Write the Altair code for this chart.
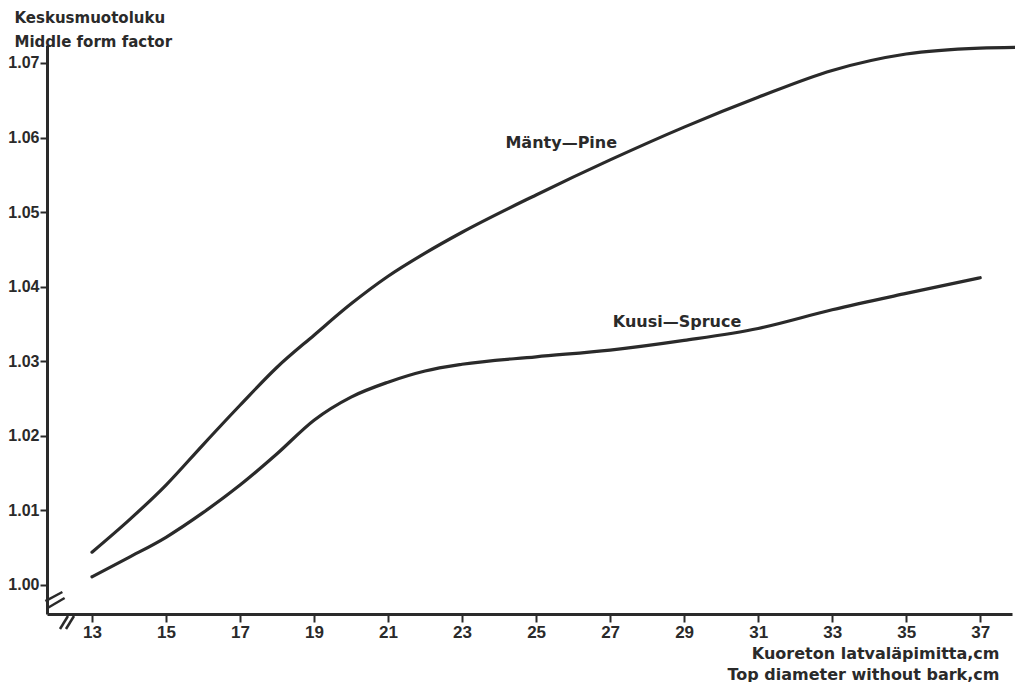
import altair as alt
import pandas as pd

# ---- data ----
pine_x = [13, 14, 15, 16, 17, 18, 19, 20, 21, 22, 23, 25, 27, 29, 31, 33, 35, 37, 38]
pine_y = [1.0044, 1.0087, 1.0134, 1.0188, 1.0241, 1.0292, 1.0335, 1.0377, 1.0414, 1.0445,
          1.0473, 1.0523, 1.0570, 1.0614, 1.0654, 1.0690, 1.0712, 1.0720, 1.0721]
spruce_x = [13, 14, 15, 16, 17, 18, 19, 20, 21, 22, 23, 25, 27, 29, 31, 33, 35, 37]
spruce_y = [1.0011, 1.0037, 1.0064, 1.0097, 1.0134, 1.0176, 1.0221, 1.0252, 1.0272, 1.0287,
            1.0296, 1.0306, 1.0315, 1.0328, 1.0344, 1.0369, 1.0391, 1.0412]

label_text = ["Mänty—Pine", "Kuusi—Spruce"]
label_x = [25.68, 28.81]
label_y = [1.0593, 1.0353]

x_ticks = [13, 15, 17, 19, 21, 23, 25, 27, 29, 31, 33, 35, 37]
y_ticks = [1.00, 1.01, 1.02, 1.03, 1.04, 1.05, 1.06, 1.07]

# axis-break marks (data coordinates)
brk_x = [11.74, 11.80, 12.135, 12.297]
brk_x2 = [12.20, 12.26, 12.351, 12.514]
brk_y = [0.99785, 0.99692, 0.99410, 0.99410]
brk_y2 = [0.99906, 0.99826, 0.99584, 0.99584]

FONT = "Liberation Sans"
TFONT = "DejaVu Sans"
INK = "#2a2a2a"

df = pd.DataFrame(
    {"x": pine_x + spruce_x,
     "y": pine_y + spruce_y,
     "species": ["Pine"] * len(pine_x) + ["Spruce"] * len(spruce_x)}
)
labels = pd.DataFrame({"t": label_text, "x": label_x, "y": label_y})
brk = pd.DataFrame({"x": brk_x, "x2": brk_x2, "y": brk_y, "y2": brk_y2})

xscale = alt.Scale(domain=[11.784, 37.86], nice=False, zero=False)
yscale = alt.Scale(domain=[0.99611, 1.07241], nice=False, zero=False)

xaxis = alt.Axis(
    values=x_ticks, format="d", grid=False,
    domainColor=INK, domainWidth=3, tickColor=INK, tickWidth=2, tickSize=8,
    labelFont=FONT, labelFontWeight="bold", labelFontSize=17, labelColor=INK,
    labelPadding=2,
    title=["Kuoreton latvaläpimitta,cm", "Top diameter without bark,cm"],
    titleFont=TFONT, titleFontWeight="bold", titleFontSize=16, titleColor=INK,
    titleAlign="right", titleAnchor="end", titleX=952, titleY=44,
    titleBaseline="alphabetic", titleLineHeight=21,
)
yaxis = alt.Axis(
    values=y_ticks, format=".2f", grid=False,
    domainColor=INK, domainWidth=3, tickColor=INK, tickWidth=2, tickSize=7,
    labelFont=FONT, labelFontWeight="bold", labelFontSize=16, labelColor=INK,
    labelPadding=1,
    title=["Keskusmuotoluku", "Middle form factor"],
    titleFont=TFONT, titleFontWeight="bold", titleFontSize=15, titleColor=INK,
    titleAngle=0, titleAlign="left", titleX=-33, titleY=-23,
    titleBaseline="alphabetic", titleLineHeight=24,
)

lines = alt.Chart(df).mark_line(
    interpolate="monotone", color=INK, strokeWidth=3.2, strokeCap="round", clip=False
).encode(
    x=alt.X("x:Q", scale=xscale, axis=xaxis),
    y=alt.Y("y:Q", scale=yscale, axis=yaxis),
    detail="species:N",
)

text = alt.Chart(labels).mark_text(
    font=TFONT, fontWeight="bold", fontSize=16, color=INK
).encode(x=alt.X("x:Q", scale=xscale), y=alt.Y("y:Q", scale=yscale), text="t:N")

breaks = alt.Chart(brk).mark_rule(color=INK, strokeWidth=2.5, clip=False).encode(
    x=alt.X("x:Q", scale=xscale), x2="x2:Q",
    y=alt.Y("y:Q", scale=yscale), y2="y2:Q",
)

chart = alt.layer(lines, text, breaks).properties(
    width=965, height=569,
    autosize=alt.AutoSizeParams(type="none"),
    padding={"left": 39, "top": 37, "right": 3, "bottom": 68},
    background="white",
).configure_view(stroke=None)

chart.save("out.html", embed_options={"renderer": "svg", "actions": False})
